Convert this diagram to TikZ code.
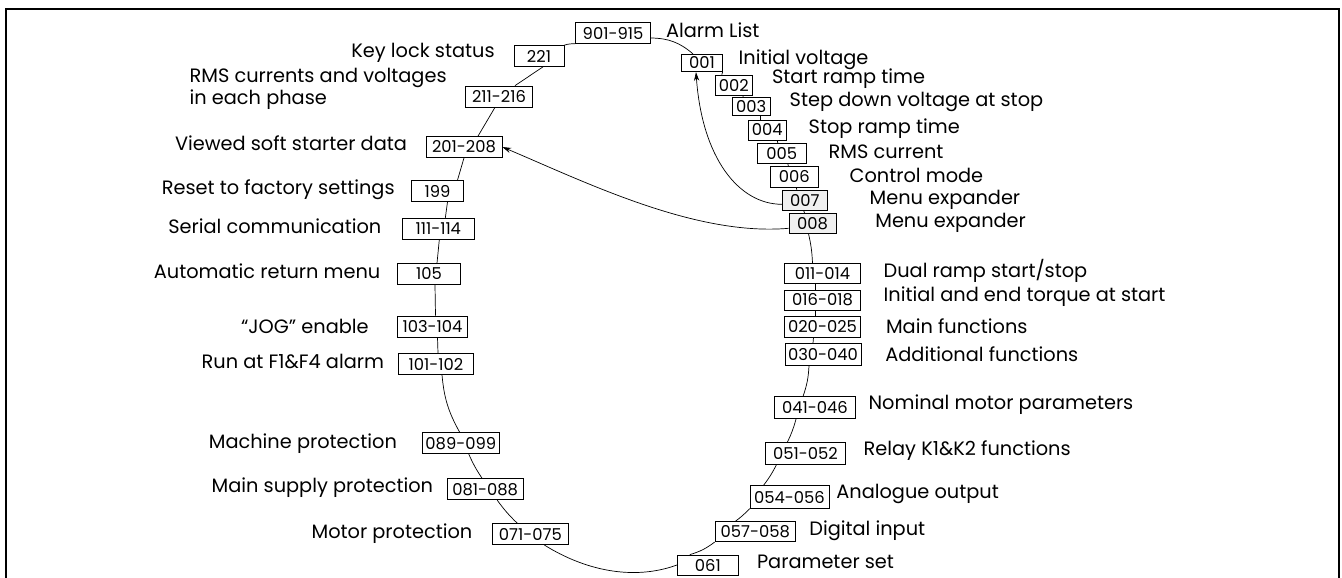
\documentclass[tikz,border=0pt]{standalone}
\usepackage{fontspec}
\setmainfont{Poppins}
\usetikzlibrary{calc,positioning,arrows.meta}

\begin{document}
\begin{tikzpicture}[x=0.2mm,y=-0.2mm,thin,>={Stealth[length=5pt,width=3pt]},
                    par node/.style={draw,fill=white,inner sep=0pt,minimum height=4.2mm,font=\fontsize{9.3}{10}\selectfont},
                    menu node/.style={par node,fill=gray!12},
                    txt node/.style={inner sep=0pt,font=\fontsize{11}{12.6}\selectfont}]

  \useasboundingbox (0,0) rectangle (1342,578);
  \draw[line width=1.5pt] (6,580) -- (6,9) -- (1339,9) -- (1339,580);

  % parameter boxes, top and left side
  \node[par node,minimum width=15mm] (p901) at (613,33) {901-915};
  \node[par node,minimum width=10mm] (p221) at (539,56) {221};
  \node[par node,minimum width=13.3mm] (p211) at (499,96.5) {211-216};
  \node[par node,minimum width=15.2mm] (p201) at (464,147) {201-208};
  \node[par node,minimum width=10.3mm] (p199) at (437.5,191) {199};
  \node[par node,minimum width=14.4mm] (p111) at (438.3,229) {111-114};
  \node[par node,minimum width=12.6mm] (p105) at (429,274) {105};
  \node[par node,minimum width=13.9mm] (p103) at (432.5,326.5) {103-104};
  \node[par node,minimum width=15.1mm] (p101) at (436,364) {101-102};
  \node[par node,minimum width=15.3mm] (p089) at (460.8,443.3) {089-099};
  \node[par node,minimum width=15.1mm] (p081) at (485.2,489.3) {081-088};
  \node[par node,minimum width=15.2mm] (p071) at (530.4,534.2) {071-075};

  % parameter boxes, bottom and right side
  \node[par node,minimum width=12.2mm,minimum height=4mm] (p061) at (707.8,565) {061};
  \node[par node,minimum width=16.1mm,minimum height=4mm] (p057) at (755.3,531.7) {057-058};
  \node[par node,minimum width=15.8mm,minimum height=4.5mm] (p054) at (789.5,497) {054-056};
  \node[par node,minimum width=16.1mm,minimum height=4.4mm] (p051) at (805.5,453.3) {051-052};
  \node[par node,minimum width=16.3mm,minimum height=4.4mm] (p041) at (815,407.8) {041-046};
  \node[par node,minimum width=15.2mm,minimum height=4.4mm] (p030) at (823,354.5) {030-040};
  \node[par node,minimum width=15.3mm] (p020) at (822.5,326.5) {020-025};
  \node[par node,minimum width=15.3mm,minimum height=4mm] (p016) at (822.5,300) {016-018};
  \node[par node,minimum width=15.3mm,minimum height=4mm] (p011) at (822.5,273.3) {011-014};
  \node[menu node,minimum width=9.4mm,minimum height=4mm] (p008) at (812.5,223.3) {008};
  \node[menu node,minimum width=9mm,minimum height=4.1mm] (p007) at (804.8,200.3) {007};
  \node[par node,minimum width=9.6mm] (p006) at (794.3,176.7) {006};
  \node[par node,minimum width=9.7mm,minimum height=4mm] (p005) at (781.8,153.3) {005};
  \node[par node,minimum width=7.5mm,minimum height=4mm] (p004) at (767.2,130) {004};
  \node[par node,minimum width=7.5mm,minimum height=3.5mm] (p003) at (751.2,106.2) {003};
  \node[par node,minimum width=7.5mm,minimum height=4mm] (p002) at (733.8,85) {002};
  \node[par node,minimum width=8.1mm,minimum height=3.5mm] (p001) at (702,63) {001};

  % texts on the right
  \node[txt node,anchor=west] (tAlarm) at (665.7,30) {Alarm List};
  \node[txt node,anchor=west] (tInit) at (738.3,60) {Initial voltage};
  \node[txt node,anchor=west] (tStart) at (771.7,79) {Start ramp time};
  \node[txt node,anchor=west] (tStep) at (789.3,101.7) {Step down voltage at stop};
  \node[txt node,anchor=west] (tStop) at (808.3,128.3) {Stop ramp time};
  \node[txt node,anchor=west] (tRms) at (828.3,151.7) {RMS current};
  \node[txt node,anchor=west] (tCtrl) at (849.3,175) {Control mode};
  \node[txt node,anchor=west] (tMenuA) at (869.3,200) {Menu expander};
  \node[txt node,anchor=west] (tMenuB) at (875,223.3) {Menu expander};
  \node[txt node,anchor=west] (tDual) at (883.3,270.7) {Dual ramp start/stop};
  \node[txt node,anchor=west] (tTorque) at (883.3,296.7) {Initial and end torque at start};
  \node[txt node,anchor=west] (tMain) at (885.7,326.7) {Main functions};
  \node[txt node,anchor=west] (tAdd) at (885,354.3) {Additional functions};
  \node[txt node,anchor=west] (tNom) at (868.3,405) {Nominal motor parameters};
  \node[txt node,anchor=west] (tRelay) at (863.3,451) {Relay K1\&K2 functions};
  \node[txt node,anchor=west] (tAna) at (836,494) {Analogue output};
  \node[txt node,anchor=west] (tDig) at (809,530.7) {Digital input};
  \node[txt node,anchor=west] (tPar) at (756.7,561.7) {Parameter set};

  % texts on the left
  \node[txt node,anchor=east] (tKey) at (495,53.3) {Key lock status};
  \node[txt node,anchor=west,align=left] (tPhase) at (189.3,89) {RMS currents and voltages\\in each phase};
  \node[txt node,anchor=east] (tView) at (407.3,143.3) {Viewed soft starter data};
  \node[txt node,anchor=east] (tReset) at (395,190) {Reset to factory settings};
  \node[txt node,anchor=east] (tSerial) at (381.7,226.7) {Serial communication};
  \node[txt node,anchor=east] (tAuto) at (380.7,271.7) {Automatic return menu};
  \node[txt node,anchor=east] (tJog) at (369,326.7) {“JOG” enable};
  \node[txt node,anchor=east] (tRun) at (384.3,361.7) {Run at F1\&F4 alarm};
  \node[txt node,anchor=east] (tMach) at (397.3,443.3) {Machine protection};
  \node[txt node,anchor=east] (tSupply) at (433.4,487.3) {Main supply protection};
  \node[txt node,anchor=east] (tMotor) at (472.7,533.3) {Motor protection};

  % the ring
  \draw ($(p001.north)+(-9,0)$) to[bend right=20] ($(p901.east)+(0,5)$);
  \draw (p901.south west) to[bend right=10] (p221.north east);
  \draw ($(p221.south)+(4,0)$) -- ($(p211.north)+(16,0)$);
  \draw ($(p211.south)+(-4,0)$) -- ($(p201.north)+(14,0)$);
  \draw (p201.south) -- ($(p199.north)+(20,0)$);
  \draw ($(p199.south)+(10,0)$) -- ($(p111.north)+(7,0)$);
  \draw ($(p111.south)+(1,0)$) -- ($(p105.north)+(8,0)$);
  \draw ($(p105.south)+(6,0)$) -- ($(p103.north)+(3,0)$);
  \draw ($(p103.south)+(5,0)$) -- ($(p101.north)+(2,0)$);
  \draw ($(p101.south)+(6,0)$) to[bend right=12] ($(p089.north)+(-1,0)$);
  \draw ($(p089.south)+(8,0)$) to[bend right=5] ($(p081.north)+(-3,0)$);
  \draw ($(p081.south)+(12,0)$) to[bend right=5] ($(p071.north)+(-13,0)$);
  \draw ($(p071.south)+(14,0)$) to[out=-32,in=200,looseness=0.9] (p061.west);
  \draw ($(p061.north)+(-18,0)$) to[bend right=10] (p057.south west);
  \draw ($(p057.north)+(-20,0)$) to[bend right=5] (p054.south west);
  \draw ($(p054.north)+(-26,0)$) to[bend right=5] ($(p051.south)+(-29,0)$);
  \draw ($(p051.north)+(-18,0)$) to[bend right=5] ($(p041.south)+(-19,0)$);
  \draw ($(p041.north)+(-12,0)$) to[bend right=8] ($(p030.south)+(-14,0)$);
  \draw ($(p030.north)+(-10,0)$) -- ($(p020.south)+(-9,0)$);
  \draw ($(p020.north)+(-7,0)$) -- ($(p016.south)+(-7,0)$);
  \draw ($(p016.north)+(-7,0)$) -- ($(p011.south)+(-7,0)$);
  \draw ($(p011.north)+(-10,0)$) to[bend right=5] ($(p008.south)+(-4,0)$);
  \draw ($(p008.north)+(-8,0)$) -- ($(p007.south)+(-1,0)$);
  \draw ($(p007.north)+(-8,0)$) -- ($(p006.south)+(2,0)$);
  \draw ($(p006.north)+(-6,0)$) -- ($(p005.south)+(6,0)$);
  \draw ($(p005.north)+(-4,0)$) -- ($(p004.south)+(10,0)$);
  \draw ($(p004.north)+(-7,0)$) -- ($(p003.south)+(9,0)$);
  \draw ($(p003.north)+(-8,0)$) -- ($(p002.south)+(9,0)$);
  \draw ($(p002.north)+(-12,0)$) -- (p001.south east);

  % menu expander jumps
  \draw[->] ([yshift=-1mm]p008.west) to[out=185,in=-23,looseness=0.8] (p201.east);
  \draw[->] ([yshift=-0.8mm]p007.west) to[out=180,in=-86,out looseness=0.7,in looseness=1.4] ([xshift=-1.2mm]p001.south);
\end{tikzpicture}
\end{document}
